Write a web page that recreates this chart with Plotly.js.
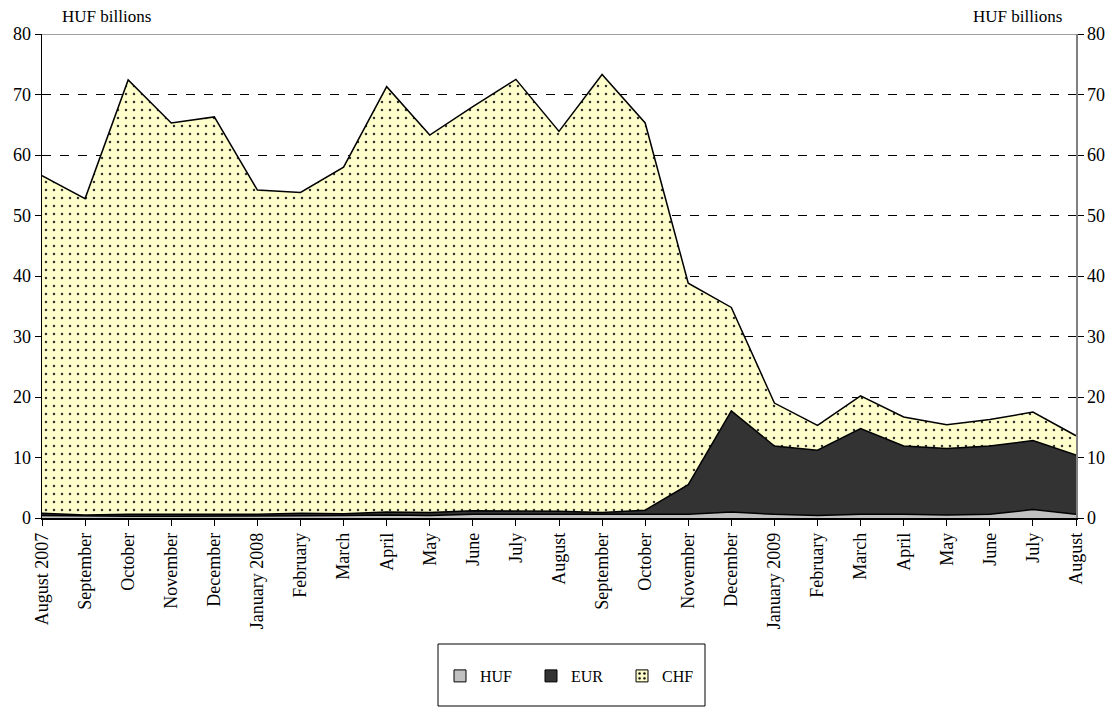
<!DOCTYPE html>
<html><head><meta charset="utf-8">
<script src="https://cdn.plot.ly/plotly-3.0.1.min.js"></script>
<style>html,body{margin:0;padding:0;background:#fff}#chart{width:1113px;height:708px}</style>
</head><body><div id="chart"></div>
<script>
const months = ["August 2007","September","October","November","December","January 2008","February","March","April","May","June","July","August","September","October","November","December","January 2009","February","March","April","May","June","July","August"];
const hufVals = [0.4,0.3,0.3,0.3,0.3,0.3,0.4,0.4,0.5,0.4,0.6,0.6,0.6,0.5,0.6,0.6,1.0,0.6,0.4,0.6,0.6,0.5,0.6,1.4,0.6];
const eurTop  = [0.8,0.5,0.6,0.6,0.6,0.6,0.8,0.7,1.0,0.9,1.2,1.2,1.1,0.9,1.3,5.5,17.7,11.9,11.2,14.8,11.9,11.5,11.9,12.8,10.4];
const total   = [56.6,52.8,72.4,65.3,66.3,54.2,53.8,58.0,71.3,63.3,68.0,72.5,63.9,73.3,65.3,38.8,34.8,19.0,15.3,20.2,16.7,15.4,16.3,17.5,13.6];
const yTicks = [0,10,20,30,40,50,60,70,80];
const seriesNames = ["HUF","EUR","CHF"];
const seriesColors = ["#c0c0c0","#333333","#ffffcc"];

const eurVals = eurTop.map((v,i)=>+(v-hufVals[i]).toFixed(2));
const chfVals = total.map((v,i)=>+(v-eurTop[i]).toFixed(2));
const idx = months.map((m,i)=>i);
const stackVals = [hufVals, eurVals, chfVals];

const fam = "Liberation Serif, serif";
const font = {family:fam, size:17, color:"#000"};
const tickFont = {family:fam, size:18, color:"#000"};
const legFont = {family:fam, size:16, color:"#000"};
const line = {color:"#000", width:1.5, shape:"linear"};
const dots = {shape:".", bgcolor:"#ffffcc", fgcolor:"#333333", size:8, solidity:0.08};

const traces = [];
seriesNames.forEach((n,k)=>{
  const t = {x:idx, y:stackVals[k], name:n, type:"scatter", mode:"lines", stackgroup:"one", line:line,
             fillcolor:seriesColors[k], showlegend:false};
  if (n==="CHF") t.fillpattern = dots;
  traces.push(t);
});
// legend swatches (square boxes)
seriesNames.forEach((n,k)=>{
  const m = {color:seriesColors[k], line:{color:"#000", width:1}};
  if (n==="CHF") m.pattern = {shape:".", bgcolor:"#ffffcc", fgcolor:"#000", size:6, solidity:0.2};
  traces.push({x:[null], y:[null], type:"bar", name:n, marker:m, showlegend:true});
});
traces.push({x:idx, y:total, yaxis:"y2", type:"scatter", mode:"lines", line:{width:0}, opacity:0, showlegend:false, hoverinfo:"skip"});

const L = 42, R = 1076, T = 34, B = 518;
const layout = {
 width:1113, height:708,
 margin:{l:L, r:1113-R, t:T, b:708-B},
 paper_bgcolor:"#fff", plot_bgcolor:"#fff",
 font:font,
 showlegend:true,
 xaxis:{range:[0,24], tickvals:idx, ticktext:months, tickangle:-90, ticks:"outside", ticklen:6, tickcolor:"#000",
        showline:true, linecolor:"#000", linewidth:1.5, showgrid:false, zeroline:false, tickfont:tickFont, automargin:false},
 yaxis:{range:[0,80], tickvals:yTicks, ticks:"outside", ticklen:6, tickcolor:"#000", showline:true, linecolor:"#000", linewidth:1.5,
        showgrid:true, gridcolor:"#000", griddash:"dash", gridwidth:1, zeroline:false, tickfont:tickFont, automargin:false},
 yaxis2:{range:[0,80], tickvals:yTicks, overlaying:"y", side:"right", ticks:"outside", ticklen:6, tickcolor:"#000",
        showline:true, linecolor:"#808080", linewidth:1.5, showgrid:false, zeroline:false, tickfont:tickFont, automargin:false},
 shapes:[
  {type:"line", xref:"paper", yref:"y", x0:0, x1:1, y0:80, y1:80, line:{color:"#808080", width:1.5}},
  {type:"rect", xref:"paper", yref:"paper", x0:(438-L)/(R-L), x1:(705-L)/(R-L), y0:(B-644)/(B-T), y1:(B-706)/(B-T),
   line:{color:"#000", width:1}, fillcolor:"rgba(0,0,0,0)"}
 ],
 legend:{orientation:"h", x:(440-L)/(R-L), xanchor:"left", y:(B-676)/(B-T), yanchor:"middle", borderwidth:0,
         font:legFont, bgcolor:"rgba(0,0,0,0)", traceorder:"normal", itemwidth:30, entrywidth:46, tracegroupgap:0},
 annotations:[
  {text:"HUF billions", xref:"paper", yref:"paper", x:(60-L)/(R-L), y:1, yshift:6, xanchor:"left", yanchor:"bottom", showarrow:false, font:font},
  {text:"HUF billions", xref:"paper", yref:"paper", x:(1064-L)/(R-L), y:1, yshift:6, xanchor:"right", yanchor:"bottom", showarrow:false, font:font}
 ]
};
Plotly.newPlot("chart", traces, layout, {displayModeBar:false, staticPlot:true});
</script></body></html>
